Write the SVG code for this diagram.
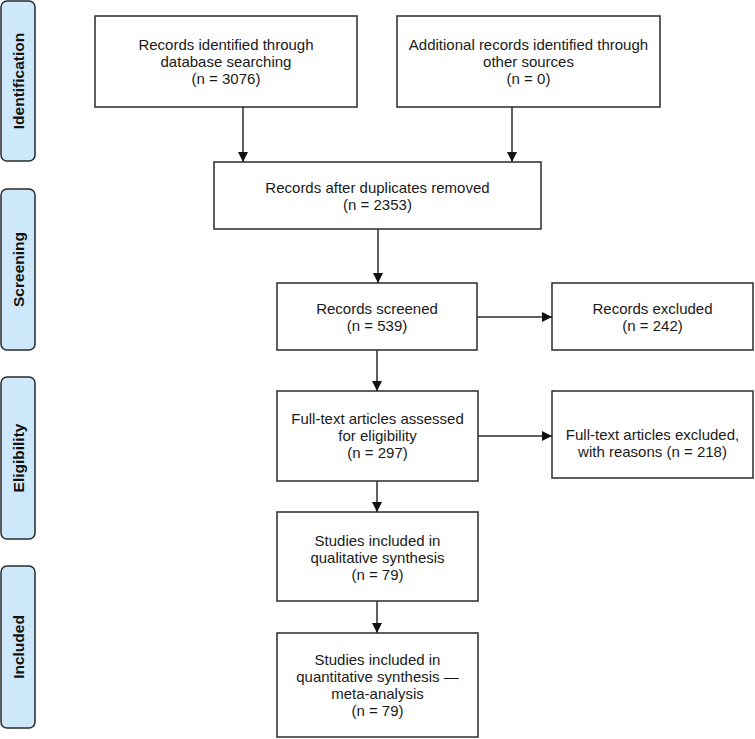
<svg xmlns="http://www.w3.org/2000/svg" width="755" height="739" viewBox="0 0 755 739">
<style>
.bg{fill:#ffffff}
.phase rect{fill:#cde8fa;stroke:#2b2b2b;stroke-width:1.5}
.phase text{font-family:"Liberation Sans",Arial,sans-serif;font-weight:bold;font-size:15.5px;fill:#111;text-anchor:middle}
.node rect{fill:#ffffff;stroke:#2b2b2b;stroke-width:1.5}
.node text{font-family:"Liberation Sans",Arial,sans-serif;font-size:15px;fill:#1a1a1a;text-anchor:middle}
.edges line{stroke:#2b2b2b;stroke-width:1.5;fill:none}
</style>
<defs>
<marker id="arrow" viewBox="0 0 10 10" refX="10" refY="5" markerWidth="10" markerHeight="10" markerUnits="userSpaceOnUse" orient="auto">
<path d="M0,0 L10,5 L0,10 Z" fill="#111"/>
</marker>
</defs>
<rect class="bg" x="0" y="0" width="755" height="739"/>

<g id="phase-identification" class="phase">
<rect x="1" y="1" width="34" height="160" rx="6"/>
<text transform="translate(24,81) rotate(-90)">Identification</text>
</g>
<g id="phase-screening" class="phase">
<rect x="1" y="189" width="34" height="161" rx="6"/>
<text transform="translate(24,269.5) rotate(-90)">Screening</text>
</g>
<g id="phase-eligibility" class="phase">
<rect x="1" y="377" width="34" height="162" rx="6"/>
<text transform="translate(24,458) rotate(-90)">Eligibility</text>
</g>
<g id="phase-included" class="phase">
<rect x="1" y="566" width="34" height="162" rx="6"/>
<text transform="translate(24,647) rotate(-90)">Included</text>
</g>

<g id="edges" class="edges">
<line x1="243" y1="107" x2="243" y2="162" marker-end="url(#arrow)"/>
<line x1="512" y1="107" x2="512" y2="162" marker-end="url(#arrow)"/>
<line x1="378" y1="229" x2="378" y2="283" marker-end="url(#arrow)"/>
<line x1="477" y1="317" x2="552" y2="317" marker-end="url(#arrow)"/>
<line x1="377" y1="350" x2="377" y2="391" marker-end="url(#arrow)"/>
<line x1="478" y1="436" x2="552" y2="436" marker-end="url(#arrow)"/>
<line x1="377" y1="481" x2="377" y2="512" marker-end="url(#arrow)"/>
<line x1="377" y1="601" x2="377" y2="633" marker-end="url(#arrow)"/>
</g>

<g id="n-identified" class="node">
<rect x="95" y="16" width="262" height="91"/>
<text x="226" y="50">Records identified through</text>
<text x="226" y="67">database searching</text>
<text x="226" y="84">(n = 3076)</text>
</g>
<g id="n-additional" class="node">
<rect x="397" y="16" width="263" height="91"/>
<text x="528.5" y="50">Additional records identified through</text>
<text x="528.5" y="67">other sources</text>
<text x="528.5" y="84">(n = 0)</text>
</g>
<g id="n-deduplicated" class="node">
<rect x="214" y="162" width="327" height="67"/>
<text x="377.5" y="192.5">Records after duplicates removed</text>
<text x="377.5" y="209.5">(n = 2353)</text>
</g>
<g id="n-screened" class="node">
<rect x="277" y="283" width="200" height="67"/>
<text x="377" y="313.5">Records screened</text>
<text x="377" y="330.5">(n = 539)</text>
</g>
<g id="n-excluded" class="node">
<rect x="552" y="283" width="201" height="67"/>
<text x="652.5" y="313.5">Records excluded</text>
<text x="652.5" y="330.5">(n = 242)</text>
</g>
<g id="n-fulltext" class="node">
<rect x="277" y="391" width="201" height="90"/>
<text x="377.5" y="424">Full-text articles assessed</text>
<text x="377.5" y="441">for eligibility</text>
<text x="377.5" y="458">(n = 297)</text>
</g>
<g id="n-fulltext-excluded" class="node">
<rect x="552" y="391" width="201" height="87"/>
<text x="652.5" y="440">Full-text articles excluded,</text>
<text x="652.5" y="457">with reasons (n = 218)</text>
</g>
<g id="n-qualitative" class="node">
<rect x="277" y="512" width="201" height="89"/>
<text x="377.5" y="546">Studies included in</text>
<text x="377.5" y="563">qualitative synthesis</text>
<text x="377.5" y="580">(n = 79)</text>
</g>
<g id="n-quantitative" class="node">
<rect x="277" y="633" width="201" height="104"/>
<text x="377.5" y="665">Studies included in</text>
<text x="377.5" y="682">quantitative synthesis —</text>
<text x="377.5" y="699">meta-analysis</text>
<text x="377.5" y="716">(n = 79)</text>
</g>
</svg>
